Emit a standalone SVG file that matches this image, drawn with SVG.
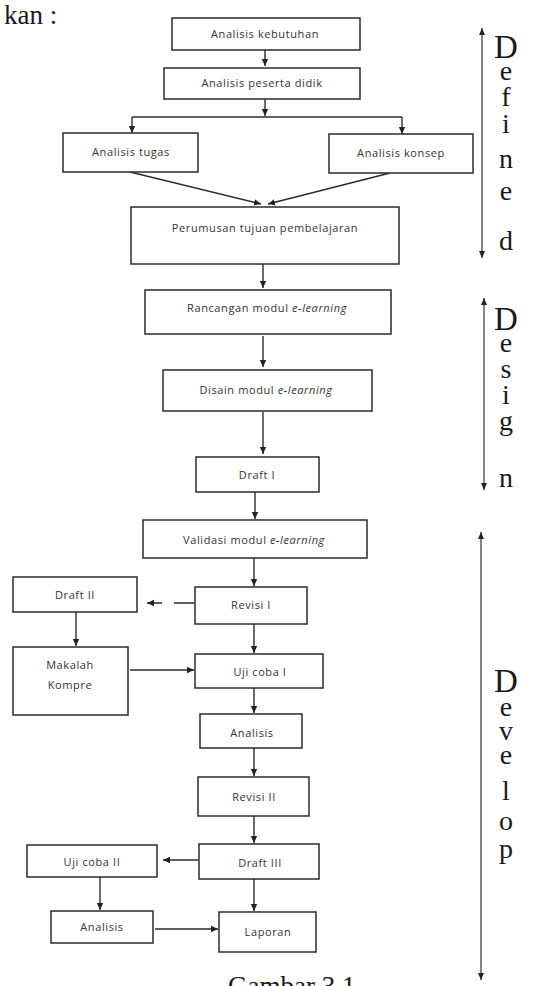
<svg xmlns="http://www.w3.org/2000/svg" width="535" height="986" viewBox="0 0 535 986">
<defs>
<marker id="ah" markerWidth="8" markerHeight="8" refX="7" refY="4" orient="auto" markerUnits="userSpaceOnUse">
<path d="M0,0.8 L7,4 L0,7.2 Z" fill="#222"/>
</marker>
<marker id="ahs" markerWidth="8" markerHeight="8" refX="7" refY="4" orient="auto-start-reverse" markerUnits="userSpaceOnUse">
<path d="M0,1 L7,4 L0,7 Z" fill="#222"/>
</marker>
<style>
.box{fill:#fff;stroke:#2b2b2b;stroke-width:1.5}
.t{font-family:"Open Sans","Liberation Sans",sans-serif;font-size:11px;letter-spacing:0.6px;fill:#333;text-anchor:middle}
.c{fill:none;stroke:#2b2b2b;stroke-width:1.4}
.ph{fill:none;stroke:#333;stroke-width:1.2}
.L{font-family:"Liberation Serif",serif;fill:#1a1a1a;text-anchor:middle;font-size:28px}
.cap{font-family:"Liberation Serif",serif;font-size:27px;fill:#1a1a1a}
</style>
</defs>
<rect width="535" height="986" fill="#fff"/>
<text class="cap" x="4" y="24">kan :</text>
<text class="cap" x="228" y="995">Gambar 3.1</text>

<g id="connectors">
<path class="c" d="M265,50 V66" marker-end="url(#ah)"/>
<path class="c" d="M265,99 V116" marker-end="url(#ah)"/>
<path class="c" d="M132,117 H402"/>
<path class="c" d="M132,117 V133" marker-end="url(#ah)"/>
<path class="c" d="M402,117 V134" marker-end="url(#ah)"/>
<path class="c" d="M130,172 L261,204" marker-end="url(#ah)" stroke-width="2"/>
<path class="c" d="M390,173 L268,204" marker-end="url(#ah)" stroke-width="2"/>
<path class="c" d="M263,264 V288" marker-end="url(#ah)"/>
<path class="c" d="M263,336 V367" marker-end="url(#ah)"/>
<path class="c" d="M263,412 V454" marker-end="url(#ah)"/>
<path class="c" d="M255,492 V519" marker-end="url(#ah)"/>
<path class="c" d="M254,558 V586" marker-end="url(#ah)"/>
<path class="c" d="M194,603 H174 M162,603 H147" marker-end="url(#ah)"/>
<path class="c" d="M76,612 V646" marker-end="url(#ah)"/>
<path class="c" d="M130,670 H194" marker-end="url(#ah)" stroke-width="2"/>
<path class="c" d="M254,624 V653" marker-end="url(#ah)"/>
<path class="c" d="M254,688 V713" marker-end="url(#ah)"/>
<path class="c" d="M254,748 V776" marker-end="url(#ah)"/>
<path class="c" d="M254,816 V843" marker-end="url(#ah)"/>
<path class="c" d="M198,860 H163" marker-end="url(#ah)"/>
<path class="c" d="M100,877 V910" marker-end="url(#ah)"/>
<path class="c" d="M155,929 H218" marker-end="url(#ah)" stroke-width="2.2"/>
<path class="c" d="M254,879 V911" marker-end="url(#ah)"/>
</g>

<g id="n1"><rect class="box" x="172" y="18" width="188" height="32"/><text class="t" x="265" y="38">Analisis kebutuhan</text></g>
<g id="n2"><rect class="box" x="164" y="68" width="196" height="31"/><text class="t" x="262" y="87">Analisis peserta didik</text></g>
<g id="n3"><rect class="box" x="63" y="133" width="135" height="39"/><text class="t" x="131" y="156">Analisis tugas</text></g>
<g id="n4"><rect class="box" x="329" y="134" width="144" height="39"/><text class="t" x="401" y="157">Analisis konsep</text></g>
<g id="n5"><rect class="box" x="131" y="207" width="268" height="57"/><text class="t" x="265" y="232">Perumusan tujuan pembelajaran</text></g>
<g id="n6"><rect class="box" x="145" y="290" width="246" height="44"/><text class="t" x="267" y="312">Rancangan modul <tspan font-style="italic">e-learning</tspan></text></g>
<g id="n7"><rect class="box" x="163" y="370" width="209" height="41"/><text class="t" x="266" y="394">Disain modul <tspan font-style="italic">e-learning</tspan></text></g>
<g id="n8"><rect class="box" x="196" y="457" width="123" height="35"/><text class="t" x="257" y="479">Draft I</text></g>
<g id="n9"><rect class="box" x="143" y="520" width="224" height="38"/><text class="t" x="254" y="544">Validasi modul <tspan font-style="italic">e-learning</tspan></text></g>
<g id="n10"><rect class="box" x="195" y="587" width="112" height="37"/><text class="t" x="251" y="609">Revisi I</text></g>
<g id="n11"><rect class="box" x="13" y="577" width="124" height="35"/><text class="t" x="75" y="599">Draft II</text></g>
<g id="n12"><rect class="box" x="13" y="647" width="115" height="68"/><text class="t" x="70" y="669">Makalah</text><text class="t" x="70" y="689">Kompre</text></g>
<g id="n13"><rect class="box" x="195" y="654" width="128" height="34"/><text class="t" x="260" y="676">Uji coba I</text></g>
<g id="n14"><rect class="box" x="200" y="714" width="102" height="34"/><text class="t" x="252" y="737">Analisis</text></g>
<g id="n15"><rect class="box" x="198" y="777" width="111" height="39"/><text class="t" x="254" y="801">Revisi II</text></g>
<g id="n16"><rect class="box" x="199" y="844" width="120" height="35"/><text class="t" x="260" y="867">Draft III</text></g>
<g id="n17"><rect class="box" x="27" y="845" width="130" height="32"/><text class="t" x="92" y="866">Uji coba II</text></g>
<g id="n18"><rect class="box" x="51" y="911" width="102" height="32"/><text class="t" x="102" y="931">Analisis</text></g>
<g id="n19"><rect class="box" x="219" y="912" width="97" height="40"/><text class="t" x="268" y="936">Laporan</text></g>

<g id="phase-defined">
<path class="ph" d="M482,258 V28" marker-start="url(#ahs)" marker-end="url(#ahs)"/>
<text class="L"><tspan x="506" y="58" font-size="33">D</tspan><tspan x="506" y="80">e</tspan><tspan x="506" y="106">f</tspan><tspan x="506" y="133">i</tspan><tspan x="506" y="168">n</tspan><tspan x="506" y="200">e</tspan><tspan x="506" y="250">d</tspan></text>
</g>
<g id="phase-design">
<path class="ph" d="M484,490 V298" marker-start="url(#ahs)" marker-end="url(#ahs)"/>
<text class="L"><tspan x="506" y="330" font-size="33">D</tspan><tspan x="506" y="352">e</tspan><tspan x="506" y="378">s</tspan><tspan x="506" y="404">i</tspan><tspan x="506" y="430">g</tspan><tspan x="506" y="487">n</tspan></text>
</g>
<g id="phase-develop">
<path class="ph" d="M481,980 V532" marker-start="url(#ahs)" marker-end="url(#ahs)"/>
<text class="L"><tspan x="506" y="692" font-size="33">D</tspan><tspan x="506" y="716">e</tspan><tspan x="506" y="740">v</tspan><tspan x="506" y="764">e</tspan><tspan x="506" y="800">l</tspan><tspan x="506" y="830">o</tspan><tspan x="506" y="858">p</tspan></text>
</g>
</svg>
